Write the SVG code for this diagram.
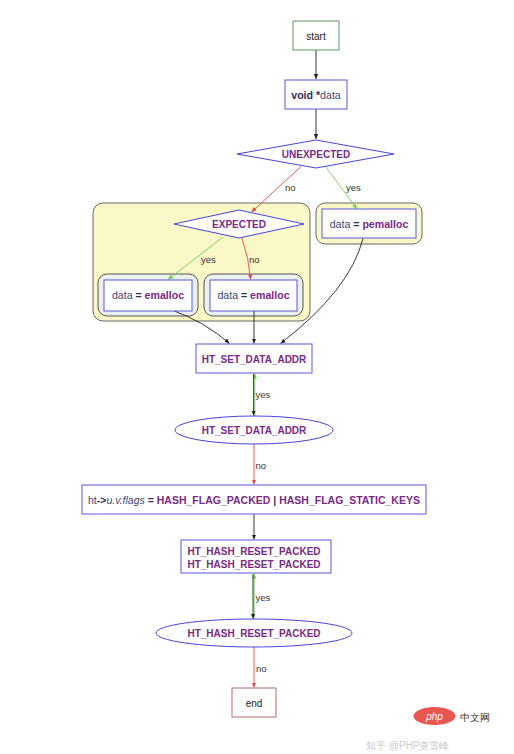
<svg xmlns="http://www.w3.org/2000/svg" width="514" height="754" viewBox="0 0 514 754">
<defs>
<style>
text{font-family:"Liberation Sans",Arial,sans-serif;font-size:10px;}
.lbl{font-size:9.5px;fill:#333;}
.mix{font-size:10.6px;}
.node{fill:#fff;stroke:#5858d8;stroke-width:1;}
.dia{fill:#fff;stroke:#4545dd;stroke-width:1;}
.p{fill:#7a2a84;font-weight:bold;}
.d{fill:#3d4872;}
.b{fill:#2c2f5a;font-weight:bold;}
.e{fill:none;stroke-width:0.9;}
.k{stroke:#222;}
.r{stroke:#e04848;}
.g{stroke:#6fd04f;}
.outer{fill:#fbf8c8;stroke:#666;stroke-width:1;}
.inner{fill:#ecf0ee;stroke:#555;stroke-width:1;}
</style>
<marker id="ak" markerWidth="6" markerHeight="6" refX="5" refY="3" orient="auto" markerUnits="userSpaceOnUse"><path d="M0,0.8 L5,3 L0,5.2 z" fill="#222"/></marker>
<marker id="ar" markerWidth="6" markerHeight="6" refX="5" refY="3" orient="auto" markerUnits="userSpaceOnUse"><path d="M0,0.8 L5,3 L0,5.2 z" fill="#e04848"/></marker>
<marker id="ag" markerWidth="6" markerHeight="6" refX="5" refY="3" orient="auto" markerUnits="userSpaceOnUse"><path d="M0,0.8 L5,3 L0,5.2 z" fill="#6fd04f"/></marker>
</defs>
<rect width="514" height="754" fill="#fff"/>

<g id="cluster-expected">
<rect class="outer" x="93" y="203" width="217" height="118" rx="10"/>
</g>
<g id="cluster-emalloc-yes"><rect class="inner" x="98" y="274" width="100" height="42" rx="9"/></g>
<g id="cluster-emalloc-no"><rect class="inner" x="204" y="274" width="99" height="42" rx="9"/></g>
<g id="cluster-pemalloc"><rect class="outer" x="316" y="203" width="106" height="41" rx="9"/></g>

<g id="connectors">
<path class="e k" d="M316,50 L316,79" marker-end="url(#ak)"/>
<path class="e k" d="M316,109 L316,139" marker-end="url(#ak)"/>
<path class="e r" d="M301,166.5 L251.5,212" marker-end="url(#ar)"/>
<text class="lbl" x="285" y="191">no</text>
<path class="e g" d="M326,167 L357,209" marker-end="url(#ag)"/>
<text class="lbl" x="346" y="191">yes</text>
<path class="e g" d="M223,237 L168,279.5" marker-end="url(#ag)"/>
<text class="lbl" x="201" y="263">yes</text>
<path class="e r" d="M242,238 Q249,258 250.5,279.5" marker-end="url(#ar)"/>
<text class="lbl" x="249" y="263">no</text>
<path class="e k" d="M172,310 Q205,322 229.5,343.5" marker-end="url(#ak)"/>
<path class="e k" d="M254,311 L254,343.5" marker-end="url(#ak)"/>
<path class="e k" d="M363,238.5 Q350,290 280.5,343.5" marker-end="url(#ak)"/>
<path class="e g" d="M254.8,416 L254.8,373.5" marker-end="url(#ag)"/>
<path class="e k" d="M253.6,374 L253.6,415.5" marker-end="url(#ak)"/>
<text class="lbl" x="255.5" y="398">yes</text>
<path class="e r" d="M254,444 L254,484.5" marker-end="url(#ar)"/>
<text class="lbl" x="255.5" y="469">no</text>
<path class="e k" d="M254,514 L254,539.5" marker-end="url(#ak)"/>
<path class="e g" d="M254.2,619 L254.2,573.5" marker-end="url(#ag)"/>
<path class="e k" d="M253,574 L253,618.5" marker-end="url(#ak)"/>
<text class="lbl" x="255.5" y="601">yes</text>
<path class="e r" d="M254,647 L254,687.5" marker-end="url(#ar)"/>
<text class="lbl" x="256" y="672">no</text>
</g>

<g id="start">
<rect x="293" y="21" width="46" height="29" fill="#fff" stroke="#5a9a5a"/>
<text x="316" y="39.5" text-anchor="middle" fill="#222">start</text>
</g>
<g id="void-data">
<rect class="node" x="285" y="80" width="62" height="29"/>
<text class="mix" x="316" y="98.5" text-anchor="middle"><tspan class="b">void</tspan><tspan class="b"> *</tspan><tspan class="d">data</tspan></text>
</g>
<g id="unexpected">
<polygon class="dia" points="237,154 316,140 394,154 316,168"/>
<text class="p" x="316" y="157.5" text-anchor="middle" font-size="10.2">UNEXPECTED</text>
</g>
<g id="expected">
<polygon class="dia" points="174,224 239,210 304,224 239,238"/>
<text class="p" x="239" y="227.5" text-anchor="middle" font-size="10.2">EXPECTED</text>
</g>
<g id="emalloc-yes">
<rect class="node" x="104" y="280" width="88" height="31"/>
<text class="mix" x="148" y="299" text-anchor="middle"><tspan class="d">data </tspan><tspan class="b">=</tspan><tspan class="p"> emalloc</tspan></text>
</g>
<g id="emalloc-no">
<rect class="node" x="210" y="280" width="87" height="31"/>
<text class="mix" x="253.5" y="299" text-anchor="middle"><tspan class="d">data </tspan><tspan class="b">=</tspan><tspan class="p"> emalloc</tspan></text>
</g>
<g id="pemalloc">
<rect class="node" x="322" y="209" width="94" height="29"/>
<text class="mix" x="369" y="227.5" text-anchor="middle"><tspan class="d">data </tspan><tspan class="b">=</tspan><tspan class="p"> pemalloc</tspan></text>
</g>
<g id="ht-set-data-addr">
<rect class="node" x="196" y="344" width="116" height="29"/>
<text class="p" x="254" y="362.5" text-anchor="middle" font-size="9.8">HT_SET_DATA_ADDR</text>
</g>
<g id="ht-set-data-addr-cond">
<ellipse class="dia" cx="254" cy="430" rx="79" ry="14"/>
<text class="p" x="254" y="433.5" text-anchor="middle" font-size="9.8">HT_SET_DATA_ADDR</text>
</g>
<g id="flags">
<rect class="node" x="82" y="485" width="344" height="29"/>
<text class="mix" x="88" y="503.5" textLength="332" lengthAdjust="spacingAndGlyphs"><tspan class="d">ht</tspan><tspan class="b">-&gt;</tspan><tspan class="d" font-style="italic">u.v.flags</tspan><tspan class="b"> = </tspan><tspan class="p">HASH_FLAG_PACKED</tspan><tspan class="b"> | </tspan><tspan class="p">HASH_FLAG_STATIC_KEYS</tspan></text>
</g>
<g id="ht-hash-reset-packed">
<rect class="node" x="181" y="540" width="150" height="33"/>
<text class="p" x="254" y="554.5" text-anchor="middle" font-size="10.3">HT_HASH_RESET_PACKED</text>
<text class="p" x="254" y="567.5" text-anchor="middle" font-size="10.3">HT_HASH_RESET_PACKED</text>
</g>
<g id="ht-hash-reset-packed-cond">
<ellipse class="dia" cx="254" cy="633" rx="98" ry="14"/>
<text class="p" x="254" y="636.5" text-anchor="middle" font-size="10.3">HT_HASH_RESET_PACKED</text>
</g>
<g id="end">
<rect x="232" y="688" width="44" height="29" fill="#fff" stroke="#b56a6a"/>
<text x="254" y="706.5" text-anchor="middle" fill="#222">end</text>
</g>

<g id="watermark">
<ellipse cx="434.5" cy="716" rx="21" ry="9" fill="#e8574f"/>
<text x="434.5" y="720" text-anchor="middle" fill="#fff" font-style="italic" font-size="12">php</text>
<text x="460" y="721" fill="#333" font-size="13" font-family="'Noto Sans CJK SC',sans-serif">中文网</text>
<text x="366" y="749" fill="#ccc" font-size="10" font-family="'Liberation Sans','Noto Sans CJK SC',sans-serif">知乎 @PHP查雪峰</text>
</g>
</svg>
